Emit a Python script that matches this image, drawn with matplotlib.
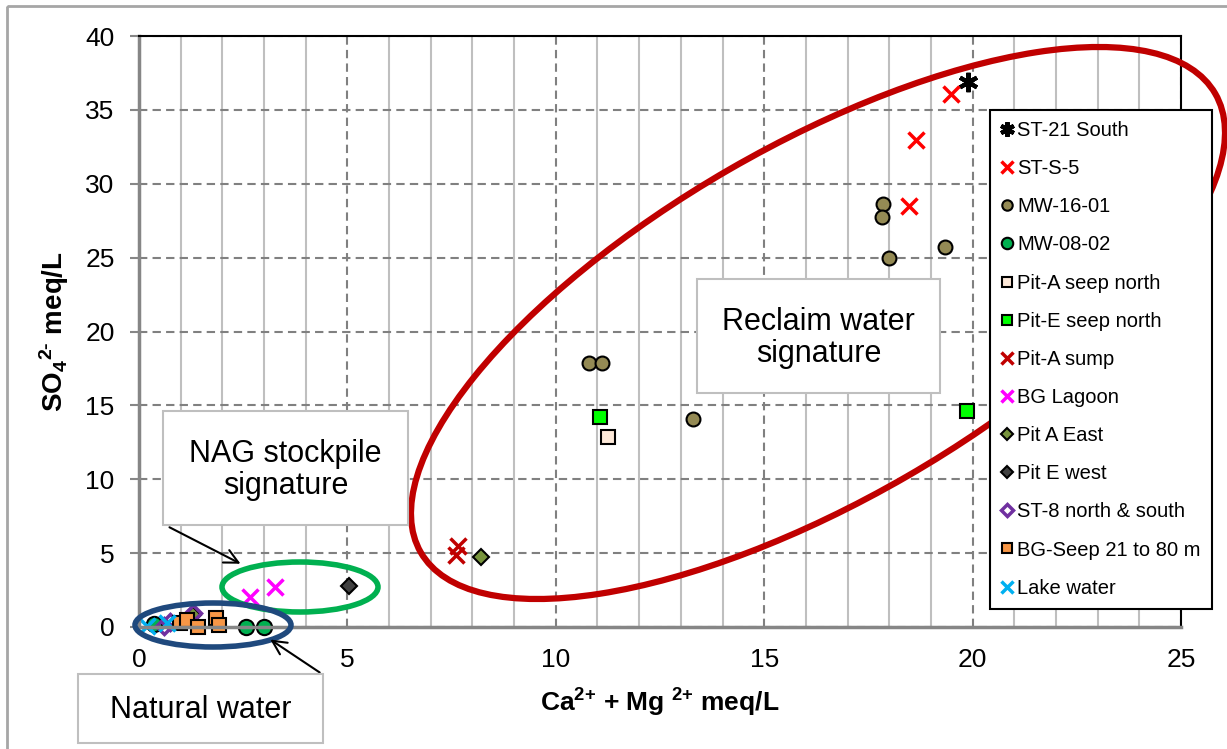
import matplotlib
matplotlib.use('Agg')
import matplotlib.pyplot as plt
from matplotlib.patches import Ellipse, Rectangle
from matplotlib.transforms import Affine2D
from matplotlib.ticker import MultipleLocator

plt.rcParams['font.family'] = ['Liberation Sans', 'DejaVu Sans']
plt.rcParams['mathtext.fontset'] = 'custom'
plt.rcParams['mathtext.rm'] = 'Liberation Sans:bold'
plt.rcParams['mathtext.it'] = 'Liberation Sans:bold'
plt.rcParams['mathtext.bf'] = 'Liberation Sans:bold'

# Ca+Mg (meq/L) vs SO4 (meq/L)
st21_x = [19.9]
st21_y = [36.9]
sts5_x = [19.48, 18.65, 18.47]
sts5_y = [36.1, 32.95, 28.5]
mw16_x = [17.84, 17.82, 18.0, 19.34, 10.8, 11.1, 13.3]
mw16_y = [28.6, 27.75, 24.95, 25.73, 17.9, 17.9, 14.1]
mw08_x = [2.57, 3.0, 0.35]
mw08_y = [0.0, 0.0, 0.2]
pitA_seep_x = [11.25]
pitA_seep_y = [12.85]
pitE_seep_x = [11.06, 19.87]
pitE_seep_y = [14.2, 14.6]
pitA_sump_x = [7.65, 7.6]
pitA_sump_y = [5.5, 4.87]
lagoon_x = [2.66, 3.26]
lagoon_y = [2.03, 2.7]
pitA_east_x = [8.2, 1.3]
pitA_east_y = [4.73, 0.8]
pitE_west_x = [5.04]
pitE_west_y = [2.77]
st8_x = [0.6, 0.75, 1.3]
st8_y = [0.05, 0.35, 0.95]
bgseep_x = [0.98, 1.15, 1.42, 1.85, 1.92]
bgseep_y = [0.27, 0.47, 0.02, 0.6, 0.14]
lake_x = [0.2, 0.67]
lake_y = [0.1, 0.27]

W, H = 1227, 749
fig = plt.figure(figsize=(W / 100, H / 100), dpi=100)
ax = fig.add_axes([139 / W, 1 - 627 / H, (1181 - 139) / W, (627 - 36) / H])
# image pixel coords (y down) -> display
pix = Affine2D().scale(1, -1).translate(0, H)

ax.set_xlim(0, 25)
ax.set_ylim(0, 40)
ax.xaxis.set_major_locator(MultipleLocator(5))
ax.xaxis.set_minor_locator(MultipleLocator(1))
ax.yaxis.set_major_locator(MultipleLocator(5))
ax.grid(which='minor', axis='x', color='#BFBFBF', lw=1.5, ls='-')
ax.grid(which='major', axis='both', color='#808080', lw=1.5, ls=(0, (4, 2.5)))
ax.set_axisbelow(True)
for s in ['left', 'bottom']:
    ax.spines[s].set_color('#868686')
    ax.spines[s].set_linewidth(2.5)
for s in ['top', 'right']:
    ax.spines[s].set_color('black')
    ax.spines[s].set_linewidth(1.5)
ax.tick_params(axis='y', which='major', length=6.5, width=1.5, color='#868686',
               labelsize=19, pad=11)
ax.tick_params(axis='x', which='both', length=0, labelsize=19, pad=15)

ax.set_xlabel(r'Ca$^{\text{2+}}$ + Mg $^{\text{2+}}$ meq/L', fontsize=19, fontweight='bold', labelpad=11)
ax.set_ylabel(r'SO$_{\text{4}}$$^{\text{2-}}$ meq/L', fontsize=20, fontweight='bold', labelpad=10)

kw = dict(ls='none', mec='black', mew=1.5)
ax.plot(st21_x, st21_y, marker=(6, 2, 0), ms=14, color='black', mew=3, ls='none', label='ST-21 South')
ax.plot(sts5_x, sts5_y, marker='x', ms=12, color='#FF0000', mew=2.5, ls='none', label='ST-S-5')
ax.plot(mw16_x, mw16_y, marker='o', ms=10, mfc='#948A54', label='MW-16-01', **kw)
ax.plot(mw08_x, mw08_y, marker='o', ms=11, mfc='#00B050', label='MW-08-02', **kw)
ax.plot(pitA_seep_x, pitA_seep_y, marker='s', ms=9.5, mfc='#FDE9D9', label='Pit-A seep north', **kw)
ax.plot(pitE_seep_x, pitE_seep_y, marker='s', ms=9.5, mfc='#00FF00', label='Pit-E seep north', **kw)
ax.plot(pitA_sump_x, pitA_sump_y, marker='x', ms=12, color='#C00000', mew=2.5, ls='none', label='Pit-A sump')
ax.plot(lagoon_x, lagoon_y, marker='x', ms=12, color='#FF00FF', mew=2.5, ls='none', label='BG Lagoon')
ax.plot(pitA_east_x, pitA_east_y, marker='D', ms=8.5, mfc='#77933C', label='Pit A East', **kw)
ax.plot(pitE_west_x, pitE_west_y, marker='D', ms=8.5, mfc='#404040', label='Pit E west', **kw)
ax.plot(st8_x, st8_y, marker='D', ms=8.5, mfc='none', mec='#7030A0', mew=2.5, ls='none',
        label='ST-8 north & south')
ax.plot(bgseep_x, bgseep_y, marker='s', ms=10, mfc='#F79646', label='BG-Seep 21 to 80 m', **kw)
ax.plot(lake_x, lake_y, marker='x', ms=12, color='#00B0F0', mew=2.5, ls='none', label='Lake water')

for ln in ax.get_lines():
    ln.set_clip_on(False)

leg = ax.legend(loc='upper left', bbox_to_anchor=(990 / W, 1 - 110 / H),
                bbox_transform=fig.transFigure, borderaxespad=0, fontsize=14.5,
                frameon=True, fancybox=False, edgecolor='black', framealpha=1,
                handlelength=0.6, handletextpad=0.2, labelspacing=0.95,
                borderpad=0.55, markerscale=0.75)
leg.get_frame().set_linewidth(1.5)
leg.set_zorder(20)

# signature ellipses (drawn in image pixels, under the legend)
ax.add_patch(Ellipse((818, 323), 2 * 458.7, 2 * 177.3, angle=-30, fill=False,
                     ec='#C00000', lw=4.5, transform=pix, zorder=10, clip_on=False))
ax.add_patch(Ellipse((300, 587), 156, 50, fill=False, ec='#00B050', lw=4,
                     transform=pix, zorder=10, clip_on=False))
ax.add_patch(Ellipse((213, 625), 156, 44, fill=False, ec='#1F497D', lw=4,
                     transform=pix, zorder=10, clip_on=False))

# labelled boxes
boxes = [(697, 279, 940, 393, 'Reclaim water\nsignature'),
         (163, 411, 408, 525, 'NAG stockpile\nsignature'),
         (78, 674, 323, 743, 'Natural water')]
for x0, y0, x1, y1, txt in boxes:
    fig.add_artist(Rectangle((x0, y0), x1 - x0, y1 - y0, fc='white', ec='#BFBFBF',
                             lw=1.5, transform=pix, zorder=12))
    fig.text((x0 + x1) / 2, (y0 + y1) / 2 + 2, txt, transform=pix, ha='center', va='center',
             fontsize=22, linespacing=1.1, zorder=13)

ax.annotate('', xy=(243, 565), xycoords=pix, xytext=(167, 526), textcoords=pix,
            arrowprops=dict(arrowstyle='->', lw=1.5, color='black', mutation_scale=25),
            zorder=14)
ax.annotate('', xy=(268, 638), xycoords=pix, xytext=(322, 674), textcoords=pix,
            arrowprops=dict(arrowstyle='->', lw=1.5, color='black', mutation_scale=25),
            zorder=14)

# outer chart border
fig.add_artist(Rectangle((7, 6), 1240, 800, fill=False, ec='#A6A6A6', lw=2,
                         transform=pix, zorder=30))

fig.savefig('out.png', dpi=100)
